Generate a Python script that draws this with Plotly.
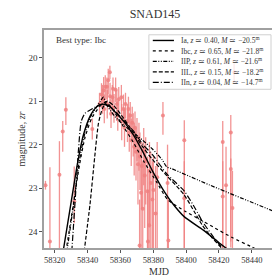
import plotly.graph_objects as go

# ---- observations (MJD, magnitude, upper error, lower error) ----
obs_mjd = [58314.4, 58317.1, 58322.9, 58324.9, 58326.8, 58331.9, 58342.9,
           58347.3, 58348.5, 58349.1, 58349.8, 58350.2, 58350.8, 58351.8, 58352.0, 58352.6, 58353.6,
           58353.7, 58354.3, 58355.1, 58355.5, 58356.1, 58357.1, 58357.8, 58358.4, 58359.0, 58360.6,
           58360.8, 58361.9, 58362.5, 58363.1, 58364.3, 58364.9, 58365.4, 58366.0, 58366.6, 58367.2,
           58367.8, 58368.4, 58368.9, 58369.5, 58370.1, 58370.7, 58371.3, 58371.7, 58371.9, 58372.6,
           58373.0, 58373.6, 58374.2, 58374.8, 58375.4, 58376.5, 58376.8, 58377.5, 58377.7, 58378.5,
           58379.5, 58380.1, 58381.4, 58382.4, 58385.9, 58388.7, 58389.2, 58398.9, 58398.9, 58422.3,
           58422.3, 58424.3, 58427.2, 58427.2, 58428.2, 58429.2]
obs_mag = [22.93, 24.22, 22.69, 21.70, 21.20, 23.30, 21.64,
           21.07, 20.85, 20.96, 20.76, 21.18, 20.67, 20.67, 21.07, 20.52, 20.34,
           20.89, 21.29, 20.91, 20.72, 21.15, 20.74, 21.07, 21.33, 20.96, 20.91,
           21.46, 21.18, 21.61, 21.07, 21.46, 21.18, 21.72, 21.33, 21.90, 21.50,
           21.72, 22.05, 21.61, 22.16, 21.83, 22.45, 21.94, 24.31, 22.27, 23.10,
           22.49, 23.47, 22.12, 22.71, 22.38, 23.07, 24.22, 23.85, 22.60, 22.88,
           23.26, 23.04, 23.58, 22.75, 21.33, 22.88, 24.20, 21.90, 23.23, 21.94,
           23.19, 22.93, 21.72, 22.56, 23.45, 20.34]
obs_err_up = [0.10, 1.70, 0.77, 0.24, 0.29, 0.80, 0.24,
              0.26, 0.26, 0.33, 0.31, 0.33, 0.26, 0.21, 0.33, 0.26, 0.15,
              0.31, 0.33, 0.28, 0.26, 0.31, 0.28, 0.33, 0.33, 0.28, 0.28,
              0.39, 0.33, 0.44, 0.26, 0.39, 0.28, 0.44, 0.31, 0.50, 0.37,
              0.44, 0.55, 0.37, 0.55, 0.44, 0.61, 0.44, 1.05, 0.55, 0.94,
              0.55, 1.09, 0.50, 0.66, 0.55, 0.80, 1.18, 1.25, 0.66, 0.72,
              0.88, 0.77, 1.09, 0.81, 0.31, 0.88, 0.94, 0.46, 0.85, 0.48,
              0.81, 0.88, 0.40, 0.24, 0.85, 0.20]
obs_err_down = [0.10, 1.50, 1.80, 0.46, 0.35, 0.50, 0.24,
                0.26, 0.31, 0.33, 0.31, 0.33, 0.31, 0.29, 0.33, 0.33, 0.16,
                0.31, 0.33, 0.28, 0.31, 0.35, 0.28, 0.39, 0.35, 0.33, 0.33,
                0.44, 0.37, 0.44, 0.33, 0.48, 0.33, 0.44, 0.39, 0.59, 0.44,
                0.55, 0.66, 0.50, 0.66, 0.55, 0.92, 0.66, 1.50, 0.77, 1.50,
                0.99, 1.50, 0.81, 1.20, 0.99, 1.50, 1.50, 1.50, 1.30, 1.50,
                1.50, 1.50, 1.50, 1.80, 0.44, 1.80, 1.50, 2.50, 1.50, 2.50,
                1.50, 1.80, 2.50, 1.80, 1.50, 0.24]

# ---- model light curves ----
ia_mjd = [58325.1, 58329.8, 58333.9, 58337.4, 58341.5, 58345.6, 58349.1, 58353.2, 58356.1, 58361.9,
          58367.8, 58373.6, 58379.5, 58385.3, 58391.2, 58398.8, 58410.5, 58420.4, 58427.4]
ia_mag = [24.46, 23.37, 22.43, 21.79, 21.35, 21.13, 21.07, 21.11, 21.22, 21.46,
          21.77, 22.16, 22.60, 22.99, 23.32, 23.65, 23.96, 24.26, 24.46]

ibc_mjd = [58326.8, 58330.9, 58335.0, 58338.5, 58342.6, 58347.3, 58351.4, 58356.1, 58361.9, 58367.8,
           58374.2, 58382.4, 58388.8, 58399.9, 58410.5, 58417.5, 58428.0, 58439.1, 58443.8]
ibc_mag = [24.46, 23.48, 22.49, 21.83, 21.39, 21.13, 21.02, 21.24, 21.59, 21.94,
           22.38, 22.88, 23.26, 23.54, 23.76, 23.91, 24.13, 24.33, 24.42]

iip_mjd = [58327.4, 58331.5, 58335.0, 58338.5, 58342.0, 58345.6, 58347.9, 58349.6, 58351.4, 58356.1,
           58361.9, 58367.8, 58373.6, 58379.5, 58385.3, 58388.2, 58391.2, 58414.6, 58453.5]
iip_mag = [24.46, 23.37, 22.38, 21.72, 21.35, 21.13, 21.00, 20.91, 21.07, 21.33,
           21.55, 21.72, 21.90, 22.10, 22.34, 22.51, 22.55, 22.93, 23.53]

iil_mjd = [58337.9, 58341.5, 58344.4, 58346.7, 58349.1, 58352.0, 58356.1, 58361.9, 58367.8, 58373.6,
           58379.5, 58388.2, 58398.8, 58405.8, 58409.9, 58415.7, 58421.6, 58425.0]
iil_mag = [24.46, 23.37, 22.27, 21.50, 21.17, 21.00, 21.11, 21.39, 21.72, 22.05,
           22.34, 22.71, 23.15, 23.59, 23.85, 24.13, 24.37, 24.50]

iin_mjd = [58330.4, 58332.7, 58334.4, 58336.2, 58338.5, 58343.2, 58347.9, 58350.2, 58356.1, 58361.9,
           58367.8, 58373.6, 58379.5, 58388.2, 58398.8, 58405.8, 58409.9, 58415.7, 58422.7, 58426.0]
iin_mag = [24.46, 23.15, 22.16, 21.46, 21.28, 21.17, 21.08, 21.07, 21.20, 21.44,
           21.68, 21.99, 22.23, 22.67, 23.06, 23.48, 23.76, 24.07, 24.40, 24.50]

legend_labels = [
    "Ia, <i>z</i> \u2243 0.40, <i>M</i> \u2243 \u221220.5<sup>m</sup>",
    "Ibc, <i>z</i> \u2243 0.65, <i>M</i> \u2243 \u221221.8<sup>m</sup>",
    "IIP, <i>z</i> \u2243 0.61, <i>M</i> \u2243 \u221221.6<sup>m</sup>",
    "IIL, <i>z</i> \u2243 0.15, <i>M</i> \u2243 \u221218.2<sup>m</sup>",
    "IIn, <i>z</i> \u2243 0.04, <i>M</i> \u2243 \u221214.7<sup>m</sup>",
]
x_ticks = [58320, 58340, 58360, 58380, 58400, 58420, 58440]
y_ticks = [20, 21, 22, 23, 24]

FONT = "Liberation Serif"
RED = "rgba(240,128,128,0.85)"
TXT = "#333"

fig = go.Figure()
fig.add_trace(go.Scatter(
    x=obs_mjd, y=obs_mag, mode="markers", showlegend=False,
    marker=dict(color=RED, size=4),
    error_y=dict(type="data", symmetric=False, array=obs_err_down, arrayminus=obs_err_up,
                 color=RED, thickness=1.3, width=0),
))

models = [
    (ia_mjd, ia_mag, "solid", 1.4),
    (ibc_mjd, ibc_mag, "dot", 1.2),
    (iip_mjd, iip_mag, "4px,1.5px,1px,1.5px,1px,1.5px", 1.2),
    (iil_mjd, iil_mag, "4px,2px", 1.2),
    (iin_mjd, iin_mag, "6px,2px,1px,2px", 1.2),
]
for (mx, my, dash, w), lab in zip(models, legend_labels):
    fig.add_trace(go.Scatter(x=mx, y=my, mode="lines", name=lab, showlegend=False,
                             line=dict(color="black", width=w, dash=dash, shape="spline", smoothing=0.6)))

# ---- hand-drawn legend box (paper coordinates) ----
shapes = [dict(type="rect", xref="paper", yref="paper", x0=0.456, x1=0.987, y0=0.728, y1=0.978,
               fillcolor="rgba(255,255,255,0.8)", line=dict(color="#d0d0d0", width=1), layer="above")]
annotations = [dict(text="Best type: Ibc", xref="paper", yref="paper", x=0.045, y=0.955,
                    xanchor="left", yanchor="middle", showarrow=False,
                    font=dict(family=FONT, size=9, color=TXT))]
row_y = [0.952, 0.904, 0.856, 0.808, 0.760]
for (mx, my, dash, w), lab, ry in zip(models, legend_labels, row_y):
    shapes.append(dict(type="line", xref="paper", yref="paper", x0=0.473, x1=0.565, y0=ry, y1=ry,
                       line=dict(color="black", width=w, dash=dash), layer="above"))
    annotations.append(dict(text=lab, xref="paper", yref="paper", x=0.585, y=ry,
                            xanchor="left", yanchor="middle", showarrow=False,
                            font=dict(family=FONT, size=7.5, color=TXT)))

fig.update_layout(
    width=280, height=280,
    margin=dict(l=27, r=14, t=22, b=29),
    paper_bgcolor="white", plot_bgcolor="white",
    font=dict(family=FONT, size=9, color=TXT),
    title=dict(text="SNAD145", x=0.525, xanchor="center", y=0.995, yanchor="top",
               font=dict(family=FONT, size=12, color=TXT)),
    showlegend=False,
    shapes=shapes,
    annotations=annotations,
)
fig.update_xaxes(range=[58313.5, 58453.5], tickvals=x_ticks, ticktext=[str(t) for t in x_ticks],
                 showgrid=False, zeroline=False, showline=True, mirror=True,
                 linecolor="#a0a0a0", linewidth=1.5, ticks="outside", ticklen=3, tickcolor="#555",
                 tickfont=dict(size=8.5), title=dict(text="MJD", standoff=4, font=dict(size=10)))
fig.update_yaxes(range=[24.37, 19.37], tickvals=y_ticks, ticktext=[str(t) for t in y_ticks],
                 showgrid=False, zeroline=False, showline=True, mirror=True,
                 linecolor="#a0a0a0", linewidth=1.5, ticks="outside", ticklen=3, tickcolor="#555",
                 tickfont=dict(size=9), title=dict(text="magnitude, <i>zr</i>", standoff=1, font=dict(size=10)))

fig.write_html("out.html")
